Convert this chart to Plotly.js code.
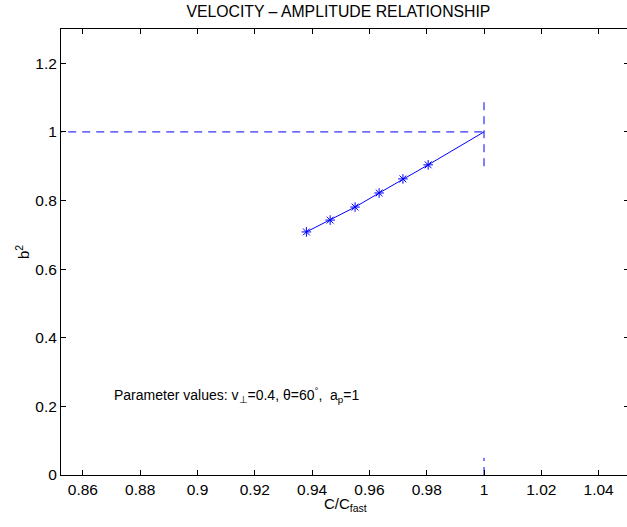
<!DOCTYPE html>
<html>
<head>
<meta charset="utf-8">
<script src="https://cdn.plot.ly/plotly-3.0.1.min.js"></script>
<style>
html,body{margin:0;padding:0;overflow:hidden;background:#fff;width:627px;height:527px;}
#chart{width:629px;height:527px;}
</style>
</head>
<body>
<div id="chart"></div>
<script>
// Data
const speedRatio = [0.938, 0.9463, 0.955, 0.9634, 0.9717, 0.9805];
const ampSquared = [0.7085, 0.743, 0.781, 0.822, 0.863, 0.904];
const limitX = [1];
const limitY = [1];
const hRefX = [0.85, 1];
const hRefY = [1, 1];
const vRefX = [1, 1];
const vRefY = [0.9, 1.1];
const vRefLowX = [1, 1];
const vRefLowY = [0, 0.05];
const xTicks = [0.86, 0.88, 0.9, 0.92, 0.94, 0.96, 0.98, 1, 1.02, 1.04];
const xTickText = ['0.86', '0.88', '0.9', '0.92', '0.94', '0.96', '0.98', '1', '1.02', '1.04'];
const yTicks = [0, 0.2, 0.4, 0.6, 0.8, 1, 1.2];
const yTickText = ['0', '0.2', '0.4', '0.6', '0.8', '1', '1.2'];
const noteX = 0.8702;
const noteY = 0.232;
const noteText = 'Parameter values: v<sub>⊥</sub>=0.4, θ=60<sup>°</sup>,  a<sub>p</sub>=1';
const xTitleText = 'C/C<sub>fast</sub>';
const yTitleText = 'b<sup>2</sup>';

const blue = '#0000ff';
const traces = [
  {x: speedRatio.concat(limitX), y: ampSquared.concat(limitY), mode: 'lines',
   line: {color: blue, width: 1}, hoverinfo: 'skip'},
  {x: speedRatio, y: ampSquared, mode: 'markers',
   marker: {symbol: 'asterisk-open', size: 8, color: blue, line: {color: blue, width: 1}}},
  {x: hRefX, y: hRefY, mode: 'lines', line: {color: blue, width: 1, dash: '8px,6px'}},
  {x: vRefX, y: vRefY, mode: 'lines', line: {color: blue, width: 1, dash: '8px,6px'}},
  {x: vRefLowX, y: vRefLowY, mode: 'lines', line: {color: blue, width: 1, dash: '8px,6px'}}
];

const fam = 'Liberation Sans, Arial, sans-serif';
const tickFont = {family: fam, size: 15.5, color: '#000'};
const labFont = {family: fam, size: 15, color: '#000'};
const layout = {
  width: 629, height: 527,
  margin: {l: 61, r: 0, t: 29, b: 52, pad: 0},
  paper_bgcolor: '#fff', plot_bgcolor: '#fff',
  showlegend: false,
  font: labFont,
  title: {text: 'VELOCITY – AMPLITUDE RELATIONSHIP', font: {family: fam, size: 15.8, color: '#000'},
          x: 0.538, xref: 'container', xanchor: 'center',
          y: 0.978, yref: 'container', yanchor: 'middle'},
  xaxis: {range: [0.85236, 1.0506], tickvals: xTicks, ticktext: xTickText,
          ticks: 'inside', ticklen: 5, tickwidth: 1, tickcolor: '#000',
          showline: true, linecolor: '#000', linewidth: 1, mirror: 'ticks',
          showgrid: false, zeroline: false, tickfont: tickFont, automargin: false},
  yaxis: {range: [0, 1.3], tickvals: yTicks, ticktext: yTickText,
          ticks: 'inside', ticklen: 5, tickwidth: 1, tickcolor: '#000',
          showline: true, linecolor: '#000', linewidth: 1, mirror: 'ticks',
          showgrid: false, zeroline: false, tickfont: tickFont, automargin: false},
  annotations: [
    {x: noteX, y: noteY, xref: 'x', yref: 'y', text: noteText,
     showarrow: false, xanchor: 'left', yanchor: 'middle',
     font: {family: fam, size: 14, color: '#000'}},
    {x: 0.5, y: -0.04, xref: 'paper', yref: 'paper', text: xTitleText,
     showarrow: false, xanchor: 'center', yanchor: 'top', font: labFont},
    {x: -0.0687, y: 0.5, xref: 'paper', yref: 'paper', text: yTitleText, textangle: -90,
     showarrow: false, xanchor: 'center', yanchor: 'middle', font: labFont}
  ]
};

Plotly.newPlot('chart', traces, layout, {displayModeBar: false, staticPlot: true});
</script>
</body>
</html>
